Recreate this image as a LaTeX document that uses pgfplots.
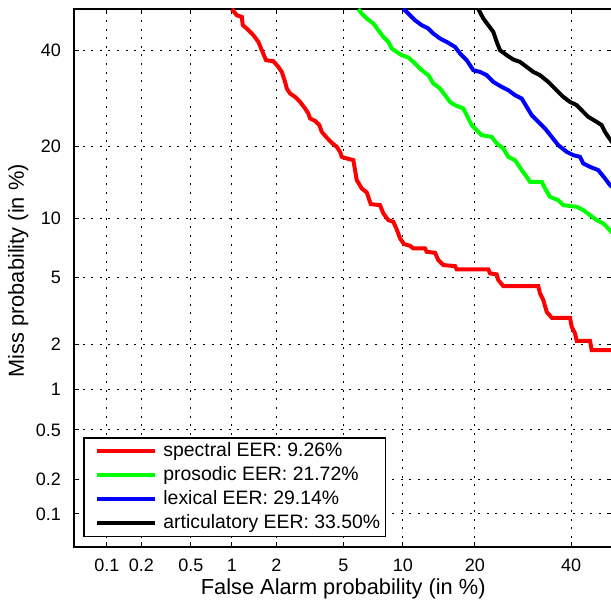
\documentclass[border=0pt]{standalone}
\usepackage{fontspec}
\setmainfont{Liberation Sans}
\usepackage{pgfplots}
\pgfplotsset{compat=1.18}

% DET curves: both axes are in normal-deviate units (probit of the rate),
% ticks are labelled with the matching percentages.
\begin{document}
\begin{tikzpicture}
\begin{axis}[
    scale only axis,
    width=269.25pt, height=268.85pt,
    xmin=-3.2905, xmax=0, ymin=-3.2905, ymax=0,
    xtick={-3.0902,-2.8782,-2.5758,-2.3263,-2.0537,-1.6449,-1.2816,-0.8416,-0.2533},
    xticklabels={0.1,0.2,0.5,1,2,5,10,20,40},
    ytick={-3.0902,-2.8782,-2.5758,-2.3263,-2.0537,-1.6449,-1.2816,-0.8416,-0.2533},
    yticklabels={0.1,0.2,0.5,1,2,5,10,20,40},
    tick align=inside,
    major tick length=2.5pt,
    tick style={black, line width=0.5pt},
    grid=major,
    major grid style={black, line width=0.5pt, dash pattern=on 1pt off 3.3pt},
    axis line style={line width=1pt},
    tick label style={font=\fontsize{9}{10}\selectfont},
    xticklabel style={yshift=-2.7pt},
    yticklabel style={xshift=-3pt},
    xlabel={False Alarm probability (in \%)},
    ylabel={Miss probability (in \%)},
    label style={font=\fontsize{10.9}{12}\selectfont},
    xlabel style={at={(axis description cs:0.5,-0.0898)}, anchor=base},
    ylabel style={at={(axis description cs:-0.0929,0.513)}, anchor=base},
    legend cell align=left,
    legend style={
        at={(axis description cs:0.0173,0.0175)}, anchor=south west,
        font=\fontsize{9.7}{11}\selectfont,
        draw=black, line width=0.8pt, fill=white,
        inner xsep=2.7pt, inner ysep=2.1pt, row sep=3pt,
        nodes={inner sep=0pt, text height=7pt, text depth=2pt},
        /tikz/every odd column/.append style={column sep=3.35pt},
    },
    legend image code/.code={
        \path (0pt,0pt);
        \draw[#1, line width=2pt] (2.6pt,0pt) -- (31.6pt,0pt);
    },
    every axis plot/.append style={line width=2pt},
]
\coordinate (sw) at (rel axis cs:0,0);
\coordinate (ne) at (rel axis cs:1,1);

\addplot[red] coordinates {
(-2.3263,0.0) (-2.2958,-0.0382) (-2.2652,-0.0486) (-2.2591,-0.0993)
(-2.2347,-0.1195) (-2.1944,-0.1605) (-2.1638,-0.2015) (-2.1431,-0.2522)
(-2.1168,-0.3134) (-2.0722,-0.3195) (-2.0417,-0.3544) (-2.0209,-0.3850)
(-2.0007,-0.4461) (-1.9903,-0.4865) (-1.9702,-0.5171) (-1.9396,-0.5379)
(-1.9091,-0.5685) (-1.8786,-0.6088) (-1.8584,-0.6394) (-1.8480,-0.6700)
(-1.8175,-0.6847) (-1.7912,-0.7110) (-1.7765,-0.7519) (-1.7503,-0.7825)
(-1.7154,-0.8192) (-1.6849,-0.8437) (-1.6647,-0.8743) (-1.6544,-0.9048)
(-1.6238,-0.9146) (-1.5835,-0.9250) (-1.5731,-0.9862) (-1.5627,-1.0474)
(-1.5322,-1.0981) (-1.5016,-1.1226) (-1.4772,-1.1941) (-1.4204,-1.2003)
(-1.4002,-1.2510) (-1.3697,-1.2920) (-1.3391,-1.3024) (-1.3184,-1.3489)
(-1.2982,-1.4039) (-1.2738,-1.4388) (-1.2371,-1.4492) (-1.2170,-1.4651)
(-1.1455,-1.4651) (-1.1351,-1.4859) (-1.0844,-1.4920) (-1.0643,-1.5366)
(-1.0337,-1.5672) (-0.9622,-1.5733) (-0.9519,-1.5935) (-0.7588,-1.5935)
(-0.7484,-1.6180) (-0.7075,-1.6241) (-0.6977,-1.6590) (-0.6672,-1.6957)
(-0.4534,-1.6957) (-0.4430,-1.7403) (-0.4228,-1.7813) (-0.4021,-1.8529)
(-0.3715,-1.8895) (-0.2597,-1.8895) (-0.2494,-1.9446) (-0.2292,-1.9850)
(-0.2188,-2.0302) (-0.1376,-2.0302) (-0.1272,-2.0871) (0.0,-2.0871)
};
\addlegendentry{spectral EER: 9.26\%}

\addplot[green] coordinates {
(-1.5530,0.0) (-1.5322,-0.0278) (-1.5016,-0.0584) (-1.4613,-0.0889)
(-1.4308,-0.1299) (-1.4002,-0.1709) (-1.3697,-0.2015) (-1.3489,-0.2418)
(-1.3184,-0.2626) (-1.2878,-0.2828) (-1.2475,-0.2969) (-1.2066,-0.3336)
(-1.1657,-0.3746) (-1.1253,-0.4051) (-1.0948,-0.4559) (-1.0539,-0.4865)
(-1.0233,-0.5275) (-0.9928,-0.5685) (-0.9622,-0.5886) (-0.9115,-0.6088)
(-0.8908,-0.6498) (-0.8602,-0.7110) (-0.8297,-0.7415) (-0.7991,-0.7721)
(-0.7381,-0.7825) (-0.7075,-0.8229) (-0.6672,-0.8535) (-0.6366,-0.9048)
(-0.5957,-0.9250) (-0.5548,-0.9862) (-0.5243,-1.0272) (-0.5041,-1.0577)
(-0.4326,-1.0577) (-0.4125,-1.0981) (-0.3819,-1.1495) (-0.3312,-1.1697)
(-0.3007,-1.2003) (-0.2188,-1.2107) (-0.1785,-1.2308) (-0.1376,-1.2614)
(-0.0966,-1.2920) (-0.0563,-1.3122) (-0.0258,-1.3428) (0.0,-1.3715)
};
\addlegendentry{prosodic EER: 21.72\%}

\addplot[blue] coordinates {
(-1.2781,0.0) (-1.2475,-0.0278) (-1.2066,-0.0688) (-1.1657,-0.0993)
(-1.1253,-0.1195) (-1.0948,-0.1501) (-1.0539,-0.1807) (-1.0129,-0.2015)
(-0.9622,-0.2321) (-0.9317,-0.2724) (-0.8908,-0.3134) (-0.8504,-0.3746)
(-0.8095,-0.3850) (-0.7686,-0.4051) (-0.7283,-0.4461) (-0.6770,-0.4767)
(-0.6366,-0.4969) (-0.5957,-0.5275) (-0.5548,-0.5477) (-0.5243,-0.5990)
(-0.4937,-0.6498) (-0.4534,-0.6908) (-0.4125,-0.7311) (-0.3715,-0.7825)
(-0.3312,-0.8333) (-0.2799,-0.8743) (-0.2396,-0.8944) (-0.1987,-0.9048)
(-0.1785,-0.9452) (-0.1376,-0.9660) (-0.0869,-0.9862) (-0.0459,-1.0370)
(-0.0154,-1.0779) (0.0,-1.0902)
};
\addlegendentry{lexical EER: 29.14\%}

\addplot[black] coordinates {
(-0.8199,0.0) (-0.7894,-0.0584) (-0.7588,-0.0993) (-0.7283,-0.1403)
(-0.7075,-0.2015) (-0.6874,-0.2522) (-0.6464,-0.2828) (-0.6061,-0.3091)
(-0.5652,-0.3238) (-0.5243,-0.3544) (-0.4839,-0.3850) (-0.4430,-0.4051)
(-0.3923,-0.4461) (-0.3618,-0.4767) (-0.3312,-0.5073) (-0.3007,-0.5379)
(-0.2597,-0.5685) (-0.2188,-0.5886) (-0.1785,-0.6296) (-0.1480,-0.6602)
(-0.0966,-0.6908) (-0.0661,-0.7110) (-0.0459,-0.7519) (-0.0258,-0.7825)
(0.0,-0.8180)
};
\addlegendentry{articulatory EER: 33.50\%}
\end{axis}
\pgfresetboundingbox
\path ([shift={(-37pt,-26.65pt)}]sw) rectangle ([shift={(-0.75pt,4.5pt)}]ne);
\end{tikzpicture}
\end{document}
